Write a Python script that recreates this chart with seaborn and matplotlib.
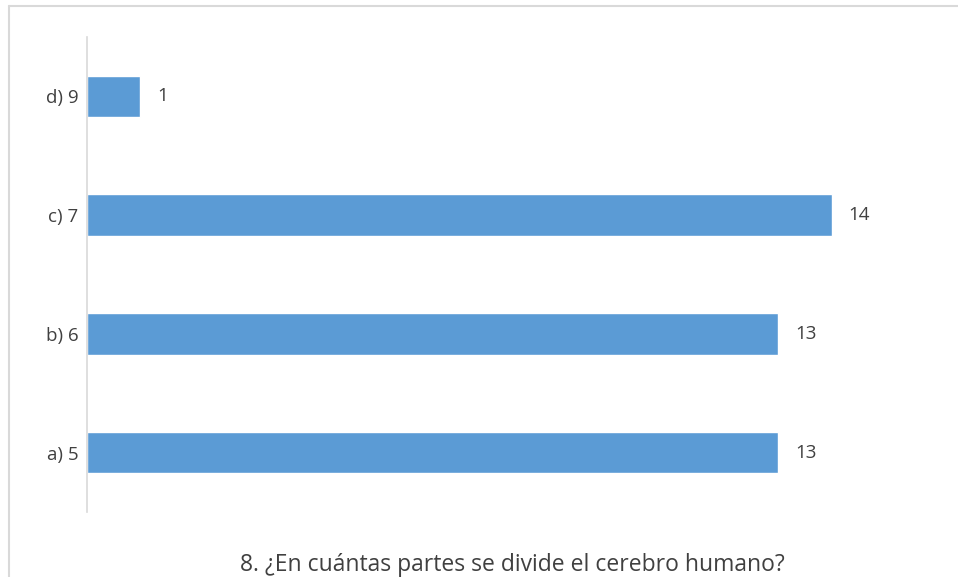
import matplotlib
matplotlib.use("Agg")
import matplotlib.pyplot as plt
import seaborn as sns
import pandas as pd
from matplotlib.lines import Line2D

categories = ["d) 9", "c) 7", "b) 6", "a) 5"]
values = [1, 14, 13, 13]
title = "8. ¿En cuántas partes se divide el cerebro humano?"

sns.set_theme(style="white")
plt.rcParams['font.family'] = ['Open Sans', 'DejaVu Sans']
text_color = "#404040"

df = pd.DataFrame({"cat": categories, "val": values})

fig = plt.figure(figsize=(9.58, 5.77), dpi=100)
ax = fig.add_axes([87/958, 1-512/577, (938-87)/958, (512-37)/577])

sns.barplot(data=df, y="cat", x="val", order=categories, color="#5B9BD5",
            saturation=1, width=0.35, ax=ax, orient="h")

ax.set_xlim(0, 16)
ax.set_ylim(3.5, -0.5)
ax.set_xlabel("")
ax.set_ylabel("")
ax.set_xticks([])
for s in ["top", "right", "bottom"]:
    ax.spines[s].set_visible(False)
ax.spines["left"].set_color("#d9d9d9")
ax.spines["left"].set_linewidth(1.2)
ax.tick_params(axis="y", length=0, pad=6, labelsize=13.5, labelcolor=text_color)

for i, v in enumerate(values):
    ax.annotate(str(v), xy=(v, i), xytext=(12, 0), textcoords="offset points",
                va="center", ha="left", fontsize=13.5, color=text_color)

fig.text(512/958, 1-565/577, title, ha="center", va="center", fontsize=16.5, color=text_color)

# outer border (top and left visible)
fig.add_artist(Line2D([8.5/958, 8.5/958], [0, 1-6/577], transform=fig.transFigure, color="#d9d9d9", lw=1.5))
fig.add_artist(Line2D([8.5/958, 1], [1-6/577, 1-6/577], transform=fig.transFigure, color="#d9d9d9", lw=1.5))

fig.savefig("out.png", dpi=100)
